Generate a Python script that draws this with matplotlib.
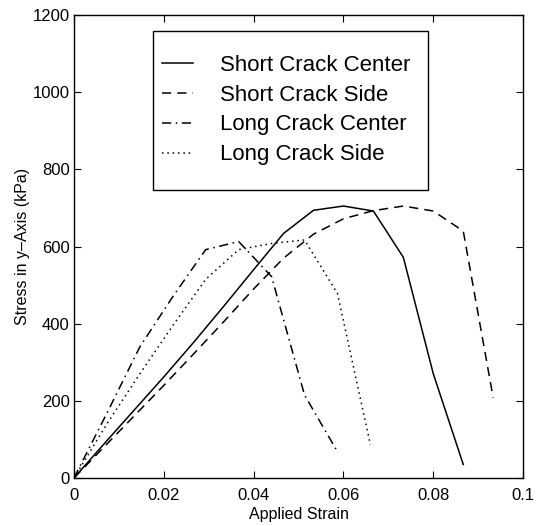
import matplotlib
matplotlib.use("Agg")
import matplotlib.pyplot as plt
from matplotlib.patches import Rectangle

plt.rcParams['font.family'] = ['Liberation Sans', 'DejaVu Sans']

# Short crack: strain step 1/150
short_strain = [0, 0.00667, 0.01333, 0.02, 0.02667, 0.03333, 0.04, 0.04667,
                0.05333, 0.06, 0.06667, 0.07333, 0.08, 0.08667, 0.09333]
short_center = [0, 88, 175, 262, 352, 445, 540, 634, 694, 705, 692, 572, 270, 35]
short_side = [0, 80, 160, 240, 322, 405, 490, 570, 632, 672, 693, 705, 692, 640, 208]

# Long crack: strain step ~0.00733
long_strain = [0, 0.00733, 0.01467, 0.022, 0.02933, 0.03667, 0.044, 0.05133, 0.05867, 0.066]
long_center = [0, 168, 340, 470, 592, 613, 522, 215, 68]
long_side = [0, 140, 270, 395, 515, 592, 608, 617, 478, 86]

labels = ['Short Crack Center', 'Short Crack Side', 'Long Crack Center', 'Long Crack Side']
xticks = [0, 0.02, 0.04, 0.06, 0.08, 0.1]
xticklabels = ['0', '0.02', '0.04', '0.06', '0.08', '0.1']
yticks = [0, 200, 400, 600, 800, 1000, 1200]

fig = plt.figure(figsize=(5.36, 5.26), dpi=100)
ax = fig.add_axes([0.138, 0.0913, 0.838, 0.880])

lw = 1.1
ax.plot(short_strain[:len(short_center)], short_center, color='black', lw=lw, linestyle='-', label=labels[0])
ax.plot(short_strain[:len(short_side)], short_side, color='black', lw=lw, linestyle=(0, (6, 4)), label=labels[1])
ax.plot(long_strain[:len(long_center)], long_center, color='black', lw=lw, linestyle=(0, (6, 3, 1, 3)), label=labels[2])
ax.plot(long_strain[:len(long_side)], long_side, color='black', lw=lw, linestyle=(0, (1, 2.5)), label=labels[3])

ax.set_xlim(0, 0.1)
ax.set_ylim(0, 1200)
ax.set_xticks(xticks)
ax.set_xticklabels(xticklabels)
ax.set_yticks(yticks)
ax.tick_params(direction='in', top=True, right=True, length=5, width=0.8, labelsize=12)
ax.tick_params(axis='x', pad=7)
ax.tick_params(axis='y', pad=3)
for s in ax.spines.values():
    s.set_linewidth(1.0)

ax.set_xlabel('Applied Strain', fontsize=11.5, labelpad=3)
ax.set_ylabel('Stress in y\u2013Axis (kPa)', fontsize=11.5, labelpad=2)

leg = ax.legend(loc='center left', bbox_to_anchor=(0.196, 0.795), borderaxespad=0,
                fontsize=16, handlelength=1.4, handletextpad=1.2, labelspacing=0.4,
                frameon=False, borderpad=0)
ax.add_patch(Rectangle((0.177, 0.622), 0.611, 0.344, transform=ax.transAxes,
                       fill=False, edgecolor='black', linewidth=1.0, zorder=5))

fig.savefig('out.png', dpi=100)
